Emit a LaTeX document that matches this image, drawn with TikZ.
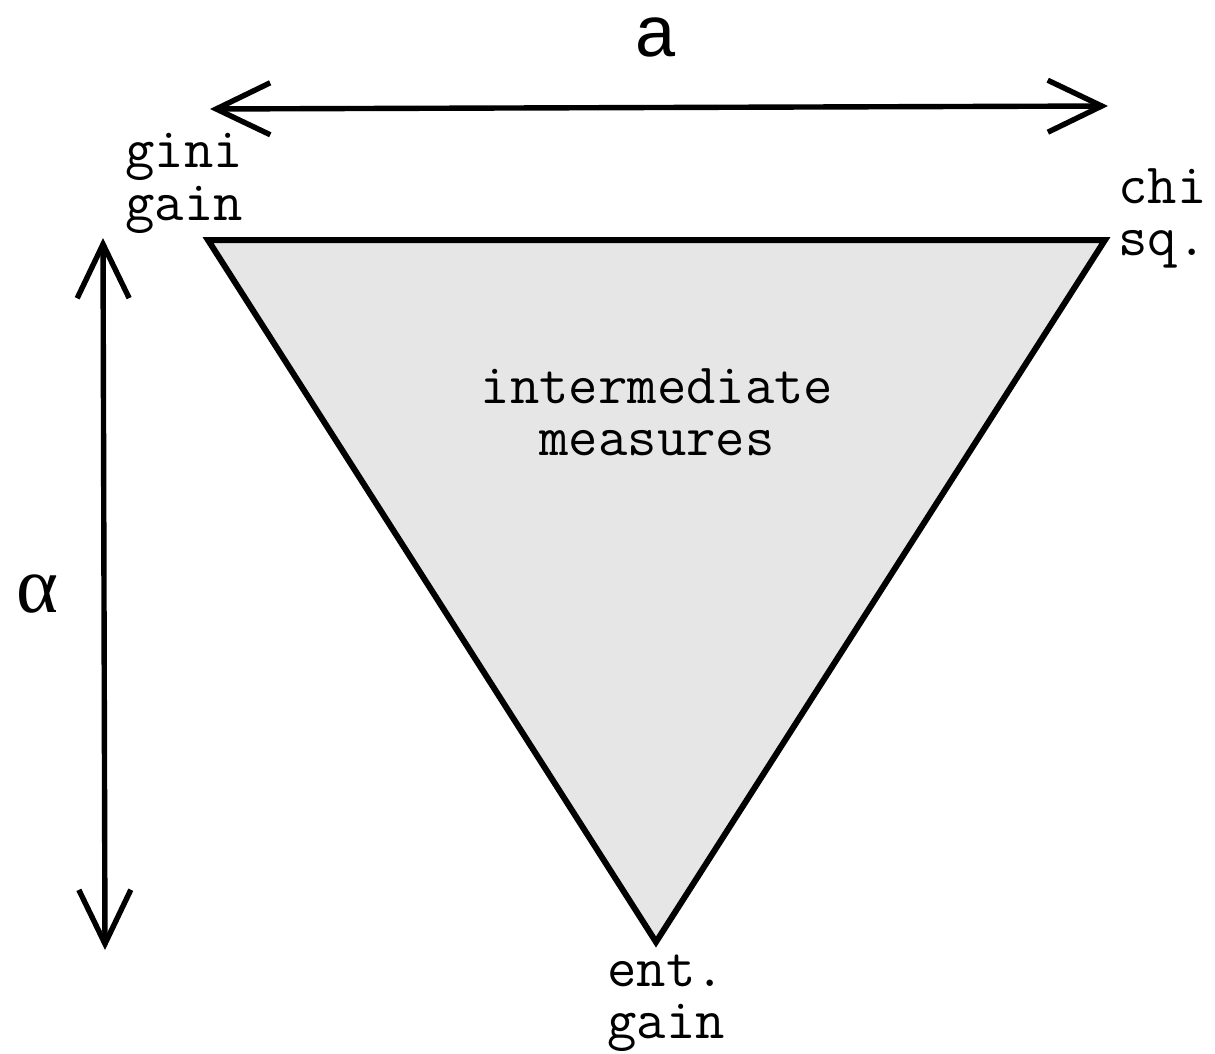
\documentclass[tikz,border=0pt]{standalone}
\usepackage{fontspec}
\setmainfont{Liberation Serif}
\newfontfamily\sansfnt{Liberation Sans}
\usetikzlibrary{arrows.meta}
\definecolor{trifill}{HTML}{E6E6E6}
\tikzset{
  edge/.style={line width=3pt, line join=miter},
  dim/.style={line width=2.7pt, {Straight Barb[length=27pt,width=26pt,line width=2.7pt]}-{Straight Barb[length=27pt,width=26pt,line width=2.7pt]}},
  lab/.style={font=\ttfamily\fontsize{28.5}{26}\selectfont, align=left, inner sep=0pt, anchor=base west},
}
\begin{document}
\begin{tikzpicture}[x=0.5pt,y=-0.5pt]
\useasboundingbox (0,0) rectangle (1215,1054);
\coordinate (gg) at (208,240);
\coordinate (cs) at (1105,240);
\coordinate (eg) at (656,942);
\filldraw[edge, fill=trifill] (gg) -- (cs) -- (eg) -- cycle;
\coordinate (aL) at (210,109);
\coordinate (aR) at (1108,106);
\draw[dim] (aL) -- (aR);
\coordinate (alT) at (103,238);
\coordinate (alB) at (105,950);
\draw[dim] (alT) -- (alB);
\node[font=\sansfnt\fontsize{36}{38}\selectfont, inner sep=0pt, anchor=base] (atext) at (656,57) {a};
\node[font=\fontsize{40}{42}\selectfont, inner sep=0pt, anchor=base] (altext) at (37,612) {α};
\node[lab] (gini) at (125,220) {gini\\gain};
\node[lab] (chi) at (1118,255) {chi\\sq.};
\node[lab, align=center, anchor=base] (mid) at (657,455) {intermediate\\measures};
\node[lab] (ent) at (607,1038) {ent.\\gain};
\end{tikzpicture}
\end{document}
